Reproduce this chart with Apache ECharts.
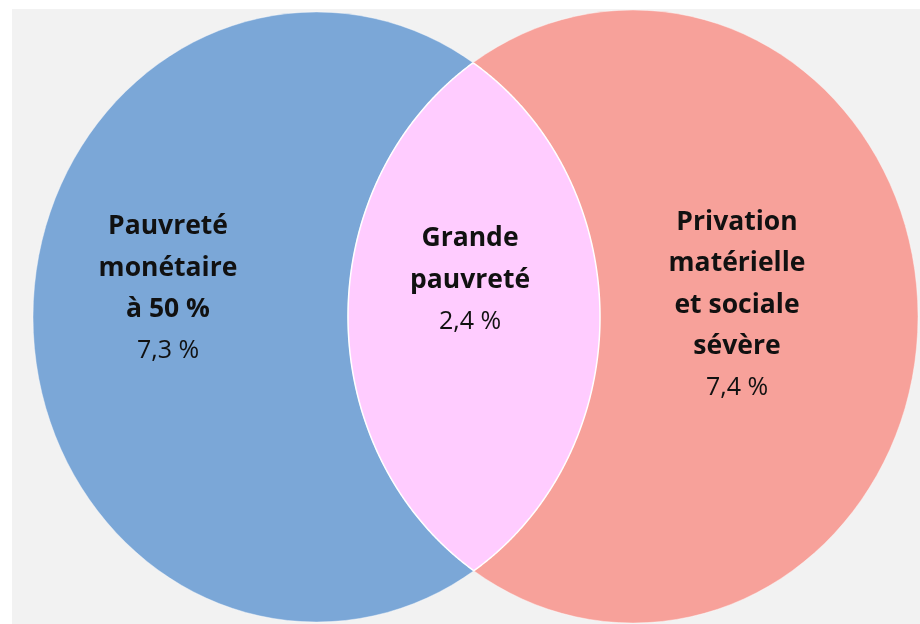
<!DOCTYPE html>
<html><head><meta charset="utf-8">
<script src="https://cdn.jsdelivr.net/npm/echarts@6/dist/echarts.min.js"></script>
<style>html,body{margin:0;padding:0;background:#fff}#c{width:920px;height:624px}</style>
</head><body><div id="c"></div>
<script>
// ---- data ----
var setNames = ['Pauvreté\nmonétaire\nà 50 %', 'Privation\nmatérielle\net sociale\nsévère'];
var setValues = [7.3, 7.4];
var overlapName = 'Grande\npauvreté';
var overlapValue = 2.4;

// ---- layout (not data) ----
var layout = {
  ellipses: [ {cx: 316.5, cy: 317, rx: 283.5, ry: 305}, {cx: 633, cy: 316.5, rx: 285, ry: 306.5} ],
  labels: [ {x: 168, y: 289}, {x: 737, y: 305} ],
  overlapLabel: {x: 470, y: 280}
};
var colors = ['#7BA7D7', '#F7A19A'];
var overlapColor = '#FFCCFF';
var FONT = '"Open Sans", Lato, sans-serif';
var FS_BOLD = 26.5;
var FS = 25;

function fmt(v){ return v.toFixed(1).replace('.', ',') + ' %'; }

function inside(e, x, y){ var dx=(x-e.cx)/e.rx, dy=(y-e.cy)/e.ry; return dx*dx+dy*dy <= 1; }

var chart = echarts.init(document.getElementById('c'), null, {renderer:'canvas'});

var seriesData = setValues.map(function(v, i){ return {name: setNames[i], value: [i, v]}; });

function textEls(lp, name, value){
  var lh = 41.5;
  var nLines = name.split('\n').length + 1;
  var top = lp[1] - nLines*lh/2;
  return [
    {type:'text', z2:10, style:{x: lp[0], y: top, text: name, fill:'#111', font:'bold ' + FS_BOLD + 'px ' + FONT, align:'center', verticalAlign:'top', lineHeight: lh}},
    {type:'text', z2:10, style:{x: lp[0], y: top + (nLines-1)*lh, text: fmt(value), fill:'#111', font: FS + 'px ' + FONT, align:'center', verticalAlign:'top', lineHeight: lh}}
  ];
}

function renderItem(params, api){
  var idx = params.dataIndex;
  var e = layout.ellipses[idx];
  var c = api.coord([e.cx, e.cy]);
  var edge = api.coord([e.cx + e.rx, e.cy + e.ry]);
  var rx = Math.abs(edge[0]-c[0]), ry = Math.abs(edge[1]-c[1]);
  var lab = layout.labels[idx];
  var lp = api.coord([lab.x, lab.y]);
  var children = [
    {type:'ellipse', shape:{cx:c[0], cy:c[1], rx:rx, ry:ry}, style:{fill: colors[idx], stroke:'rgba(255,255,255,0.4)', lineWidth:1}}
  ].concat(textEls(lp, setNames[idx], setValues[idx]));
  return {type:'group', children: children};
}

function renderOverlap(params, api){
  var es = layout.ellipses.map(function(e){
    var c = api.coord([e.cx, e.cy]);
    var edge = api.coord([e.cx + e.rx, e.cy + e.ry]);
    return {cx:c[0], cy:c[1], rx:Math.abs(edge[0]-c[0]), ry:Math.abs(edge[1]-c[1])};
  });
  var pts = [];
  var N = 1440;
  for (var k=0; k<2; k++){
    var a = es[k], b = es[1-k];
    for (var i=0;i<N;i++){
      var t = i/N*2*Math.PI;
      var x = a.cx + a.rx*Math.cos(t), y = a.cy + a.ry*Math.sin(t);
      if (inside(b, x, y)) pts.push([x,y]);
    }
  }
  var mx=0,my=0; pts.forEach(function(p){mx+=p[0];my+=p[1];}); mx/=pts.length; my/=pts.length;
  pts.sort(function(p,q){ return Math.atan2(p[1]-my,p[0]-mx) - Math.atan2(q[1]-my,q[0]-mx); });
  var lp = api.coord([layout.overlapLabel.x, layout.overlapLabel.y]);
  return {type:'group', children:[
    {type:'polygon', shape:{points: pts}, style:{fill: overlapColor, stroke:'#ffffff', lineWidth:1.5}}
  ].concat(textEls(lp, overlapName, overlapValue))};
}

chart.setOption({
  animation:false,
  backgroundColor:'#ffffff',
  graphic:[{type:'rect', z:-10, left:12, top:9, shape:{width:908, height:615}, style:{fill:'#F2F2F2'}}],
  grid:{left:0,right:0,top:0,bottom:0},
  xAxis:{type:'value', min:0, max:920, show:false},
  yAxis:{type:'value', min:0, max:624, inverse:true, show:false},
  series:[
    {type:'custom', renderItem: renderItem, data: seriesData, clip:false, z:2},
    {type:'custom', renderItem: renderOverlap, data: [{name: overlapName, value:[0, overlapValue]}], clip:false, z:3}
  ]
});
</script></body></html>
